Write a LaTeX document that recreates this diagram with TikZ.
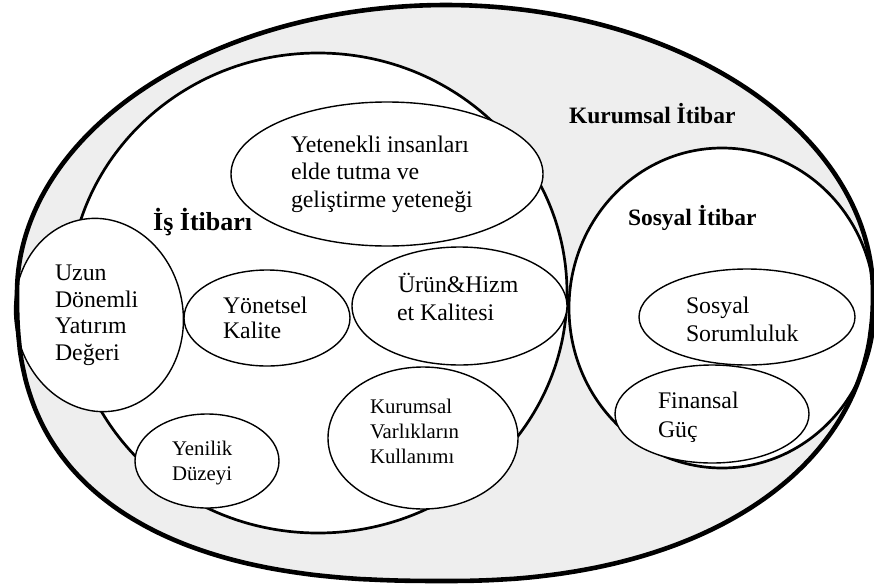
\documentclass[tikz,border=0pt]{standalone}
\usepackage{fontspec}
\setmainfont{Liberation Serif}
\usetikzlibrary{shapes.geometric}
\definecolor{bggray}{RGB}{238,238,238}
\tikzset{
  blob/.style={ellipse, draw=black, fill=white, line width=1.4pt, inner sep=0pt, outer sep=0pt},
  ring/.style={ellipse, draw=black, fill=white, line width=2.7pt, inner sep=0pt, outer sep=0pt},
  outerline/.style={draw=black, line width=4.6pt, line join=round},
  lbl/.style={anchor=base west, inner sep=0pt, outer sep=0pt, font=\fontsize{23.8}{27}\selectfont},
  lblsm/.style={anchor=base west, inner sep=0pt, outer sep=0pt, font=\fontsize{20.8}{25}\selectfont},
  ttl/.style={anchor=base west, inner sep=0pt, outer sep=0pt, font=\bfseries\fontsize{23.5}{27}\selectfont},
}
\def\kbOuter{plot[domain=0.5:89.5, samples=90] ({446+427*pow(cos(\x),0.909)}, {293+288*pow(sin(\x),0.909)})
  -- plot[domain=90.5:179.5, samples=90] ({446-429*pow(-cos(\x),0.8)}, {293+288*pow(sin(\x),0.8)})
  -- plot[domain=180.5:269.5, samples=90] ({446+429*cos(\x)}, {293+288*sin(\x)})
  -- plot[domain=270.5:359.5, samples=90] ({446+427*cos(\x)}, {293+288*sin(\x)}) -- cycle}
\begin{document}
\begin{tikzpicture}[x=1pt,y=-1pt]
\useasboundingbox (0,0) rectangle (874,586);
\fill[white] (0,0) rectangle (874,586);
% outer: Kurumsal Itibar
\fill[bggray] \kbOuter;
% Is Itibari
\node[ring, minimum width=498pt, minimum height=480pt] (is) at (318,293) {};
% Sosyal Itibar
\node[ring, minimum width=306pt, minimum height=320pt] (sosyal) at (722,308) {};
% inner ellipses
\node[blob, minimum width=312pt, minimum height=144pt] (yet) at (387,174) {};
\node[blob, rotate=10, minimum width=168pt, minimum height=194pt] (uzun) at (99,315) {};
\node[blob, minimum width=166pt, minimum height=96pt] (yon) at (267,318) {};
\node[blob, minimum width=215pt, minimum height=118pt] (urun) at (459.5,306) {};
\node[blob, minimum width=190pt, minimum height=142pt] (kvk) at (423,438) {};
\node[blob, minimum width=144pt, minimum height=94pt] (yen) at (207,461) {};
\node[blob, minimum width=216pt, minimum height=96pt] (sor) at (747,317) {};
\node[blob, minimum width=194pt, minimum height=98pt] (fin) at (712,414) {};
% outer stroke on top
\draw[outerline] \kbOuter;
% titles
\node[ttl] (tkur) at (569,123) {Kurumsal İtibar};
\node[anchor=base west, inner sep=0pt, font=\bfseries\fontsize{26}{30}\selectfont] (tis) at (153,230) {İş İtibarı};
\node[ttl] (tsos) at (628,225) {Sosyal İtibar};
% texts
\node[lbl] (y1) at (291,152) {Yetenekli insanları};
\node[lbl] (y2) at (291,179) {elde tutma ve};
\node[lbl] (y3) at (291,207) {geliştirme yeteneği};
\node[lbl] (u1) at (55,280) {Uzun};
\node[lbl] (u2) at (55,307) {Dönemli};
\node[lbl] (u3) at (55,333) {Yatırım};
\node[lbl] (u4) at (55,360) {Değeri};
\node[lbl] (k1) at (223,313) {Yönetsel};
\node[lbl] (k2) at (223,338) {Kalite};
\node[lbl] (h1) at (398,292) {Ürün\&Hizm};
\node[lbl] (h2) at (397,320) {et Kalitesi};
\node[lblsm] (v1) at (370,413) {Kurumsal};
\node[lblsm] (v2) at (370,438) {Varlıkların};
\node[lblsm] (v3) at (370,463) {Kullanımı};
\node[lblsm] (n1) at (172,455) {Yenilik};
\node[lblsm] (n2) at (172,480) {Düzeyi};
\node[lbl] (s1) at (686,313) {Sosyal};
\node[lbl] (s2) at (686,341) {Sorumluluk};
\node[lbl] (f1) at (658,408) {Finansal};
\node[lbl] (f2) at (658,437) {Güç};
\end{tikzpicture}
\end{document}
